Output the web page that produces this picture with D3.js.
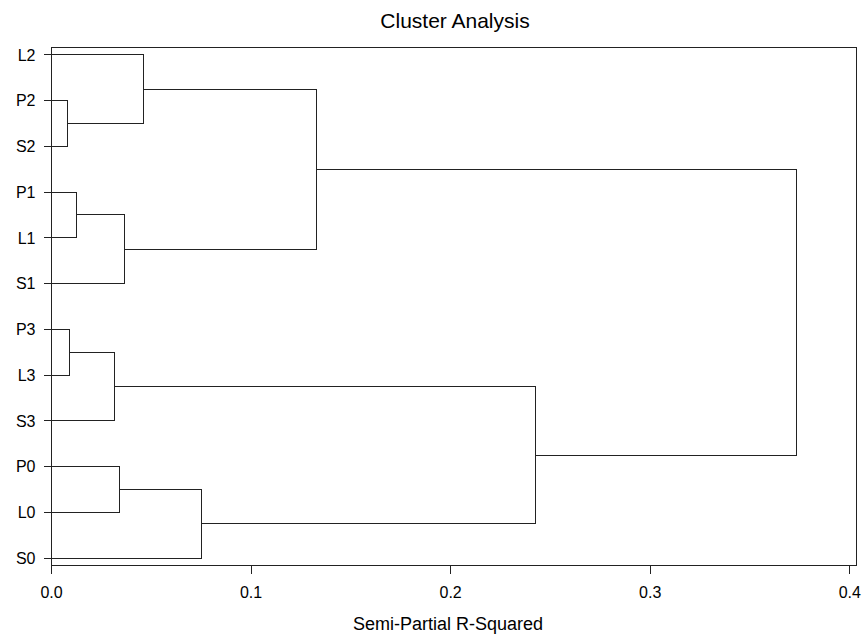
<!DOCTYPE html>
<html>
<head>
<meta charset="utf-8">
<script src="https://cdn.jsdelivr.net/npm/d3@7"></script>
<style>
  body { margin: 0; background: #fff; }
  svg { display: block; font-family: "Liberation Sans", Arial, sans-serif; }
</style>
</head>
<body>
<div id="chart"></div>
<script>
// leaves top -> bottom
const leaves = ["L2", "P2", "S2", "P1", "L1", "S1", "P3", "L3", "S3", "P0", "L0", "S0"];
// joins: cluster id, the two members, semi-partial r-squared at the join
const clusterIds = ["CL11", "CL10", "CL9", "CL8", "CL7", "CL6", "CL5", "CL4", "CL3", "CL2", "CL1"];
const joinA = ["P2", "L2", "P1", "CL9", "CL10", "P3", "CL6", "P0", "CL4", "CL5", "CL7"];
const joinB = ["S2", "CL11", "L1", "S1", "CL8", "L3", "S3", "L0", "S0", "CL3", "CL2"];
const joinHeight = [0.0082, 0.0463, 0.0124, 0.0368, 0.1328, 0.0089, 0.0317, 0.0339, 0.0750, 0.2423, 0.3734];
const xTicks = [0, 0.1, 0.2, 0.3, 0.4];

const W = 862, H = 636
const frame = { left: 51, top: 47, right: 856, bottom: 565 }

const svg = d3.select('#chart').append('svg')
    .attr('width', W).attr('height', H)

const x = d3.scaleLinear().domain([0, 0.4]).range([51, 849.3])
const y = d3.scalePoint().domain(leaves).range([frame.top, frame.bottom]).padding(0.16)

// node positions: leaves at x=0, clusters at the middle of their members
const pos = {}
leaves.forEach(d => { pos[d] = { h: 0, y: y(d) } })
const links = []
clusterIds.forEach((id, i) => {
    const a = pos[joinA[i]], b = pos[joinB[i]], h = joinHeight[i]
    pos[id] = { h: h, y: (a.y + b.y) / 2 }
    links.push({ a: a, b: b, h: h })
})

const line = '#222'

// frame
svg.append('rect')
    .attr('x', frame.left + 0.5).attr('y', frame.top + 0.5)
    .attr('width', frame.right - frame.left).attr('height', frame.bottom - frame.top)
    .attr('fill', 'none').attr('stroke', line)
    .attr('shape-rendering', 'crispEdges')

// dendrogram elbows
svg.append('g').selectAll('path')
    .data(links)
    .join('path')
    .attr('fill', 'none')
    .attr('stroke', line)
    .attr('shape-rendering', 'crispEdges')
    .attr('d', d => {
        const xa = Math.round(x(d.a.h)) + 0.5, xb = Math.round(x(d.b.h)) + 0.5, xh = Math.round(x(d.h)) + 0.5
        const ya = Math.round(d.a.y) + 0.5, yb = Math.round(d.b.y) + 0.5
        return `M${xa},${ya}H${xh}V${yb}H${xb}`
    })

// axes
const xAxis = svg.append('g')
    .attr('transform', `translate(0,${frame.bottom + 0.5})`)
    .call(d3.axisBottom(x).tickValues(xTicks).tickFormat(d3.format('.1f')).tickSize(8).tickPadding(13))
const yAxis = svg.append('g')
    .attr('transform', `translate(${frame.left + 0.5},0)`)
    .call(d3.axisLeft(y).tickSize(8).tickPadding(8))

;[xAxis, yAxis].forEach(g => {
    g.select('.domain').remove()
    g.selectAll('line').attr('stroke', line).attr('shape-rendering', 'crispEdges')
    g.selectAll('text').attr('font-size', 16).attr('fill', '#000')
        .attr('font-family', '"Liberation Sans", Arial, sans-serif')
})
yAxis.selectAll('text').attr('dy', '0.36em')

// titles
svg.append('text')
    .attr('x', 455).attr('y', 28)
    .attr('text-anchor', 'middle')
    .attr('font-size', 21)
    .text('Cluster Analysis')

svg.append('text')
    .attr('x', 448).attr('y', 630)
    .attr('text-anchor', 'middle')
    .attr('font-size', 18)
    .text('Semi-Partial R-Squared')
</script>
</body>
</html>
